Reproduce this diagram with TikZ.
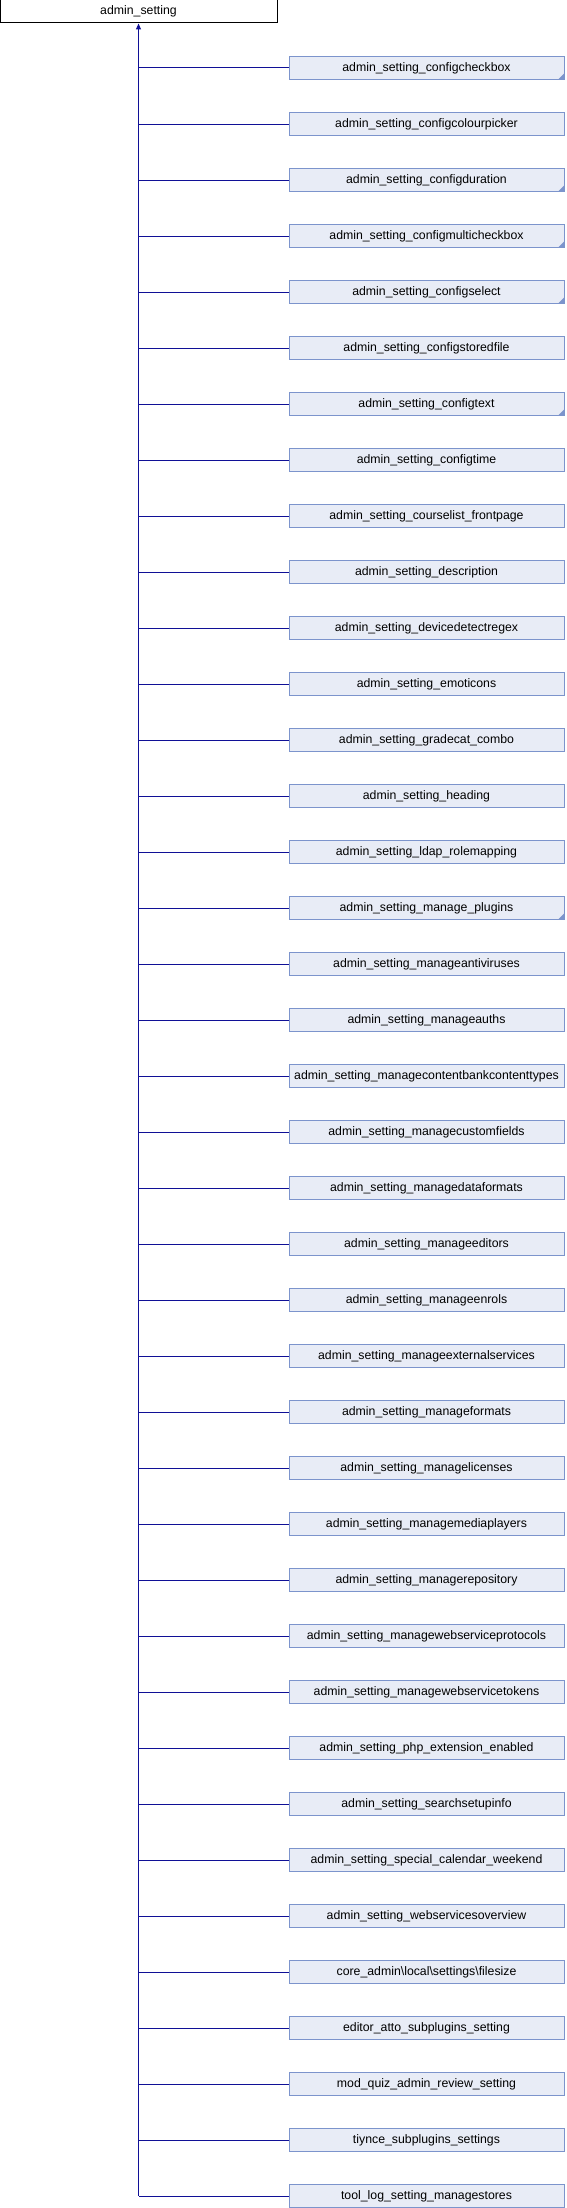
\documentclass[tikz,border=0pt]{standalone}
\usepackage{fontspec}
\setmainfont{Liberation Sans}
\usepackage{xcolor}
\usepackage{tikz}
\usetikzlibrary{positioning, arrows.meta, calc}

\definecolor{edgeblue}{RGB}{16,16,150}
\definecolor{boxfill}{RGB}{232,236,246}
\definecolor{boxline}{RGB}{124,148,204}

\tikzset{
  base/.style={draw=black, line width=1pt, fill=white, minimum width=277pt, minimum height=23pt, inner sep=0pt, font=\fontsize{12.3}{14}\selectfont},
  derived/.style={draw=boxline, line width=1pt, fill=boxfill, minimum width=275pt, minimum height=23pt, inner sep=0pt, font=\fontsize{12.3}{14}\selectfont},
  leaf/.style={},
  more/.style={path picture={\fill[boxline] (path picture bounding box.south east) -- ++(-6pt,0) -- ++(6pt,6pt) -- cycle;}},
  edge/.style={draw=edgeblue, line width=1pt}
}

\begin{document}
\begin{tikzpicture}[x=1pt, y=-1pt]
  \useasboundingbox (0,0) rectangle (566,2208);

  \node[base] (root) at (138.5, 11.5) {admin\_setting};

  \foreach \lbl/\mk [count=\i from 0] in {
      admin\_setting\_configcheckbox/more,
      admin\_setting\_configcolourpicker/leaf,
      admin\_setting\_configduration/more,
      admin\_setting\_configmulticheckbox/more,
      admin\_setting\_configselect/more,
      admin\_setting\_configstoredfile/leaf,
      admin\_setting\_configtext/more,
      admin\_setting\_configtime/leaf,
      admin\_setting\_courselist\_frontpage/leaf,
      admin\_setting\_description/leaf,
      admin\_setting\_devicedetectregex/leaf,
      admin\_setting\_emoticons/leaf,
      admin\_setting\_gradecat\_combo/leaf,
      admin\_setting\_heading/leaf,
      admin\_setting\_ldap\_rolemapping/leaf,
      admin\_setting\_manage\_plugins/more,
      admin\_setting\_manageantiviruses/leaf,
      admin\_setting\_manageauths/leaf,
      admin\_setting\_managecontentbankcontenttypes/leaf,
      admin\_setting\_managecustomfields/leaf,
      admin\_setting\_managedataformats/leaf,
      admin\_setting\_manageeditors/leaf,
      admin\_setting\_manageenrols/leaf,
      admin\_setting\_manageexternalservices/leaf,
      admin\_setting\_manageformats/leaf,
      admin\_setting\_managelicenses/leaf,
      admin\_setting\_managemediaplayers/leaf,
      admin\_setting\_managerepository/leaf,
      admin\_setting\_managewebserviceprotocols/leaf,
      admin\_setting\_managewebservicetokens/leaf,
      admin\_setting\_php\_extension\_enabled/leaf,
      admin\_setting\_searchsetupinfo/leaf,
      admin\_setting\_special\_calendar\_weekend/leaf,
      admin\_setting\_webservicesoverview/leaf,
      core\_admin\textbackslash local\textbackslash settings\textbackslash filesize/leaf,
      editor\_atto\_subplugins\_setting/leaf,
      mod\_quiz\_admin\_review\_setting/leaf,
      tiynce\_subplugins\_settings/leaf,
      tool\_log\_setting\_managestores/leaf} {
    \node[derived, \mk] (c\i) at (426.5, 68+56*\i) {\lbl};
    \draw[edge] (c\i.west) -- (c\i.west -| root.south);
  }

  % trunk up to the base class
  \draw[edge, -{Triangle[length=6pt, width=5pt]}] (root.south |- c38.west) -- (root.south);
\end{tikzpicture}
\end{document}
